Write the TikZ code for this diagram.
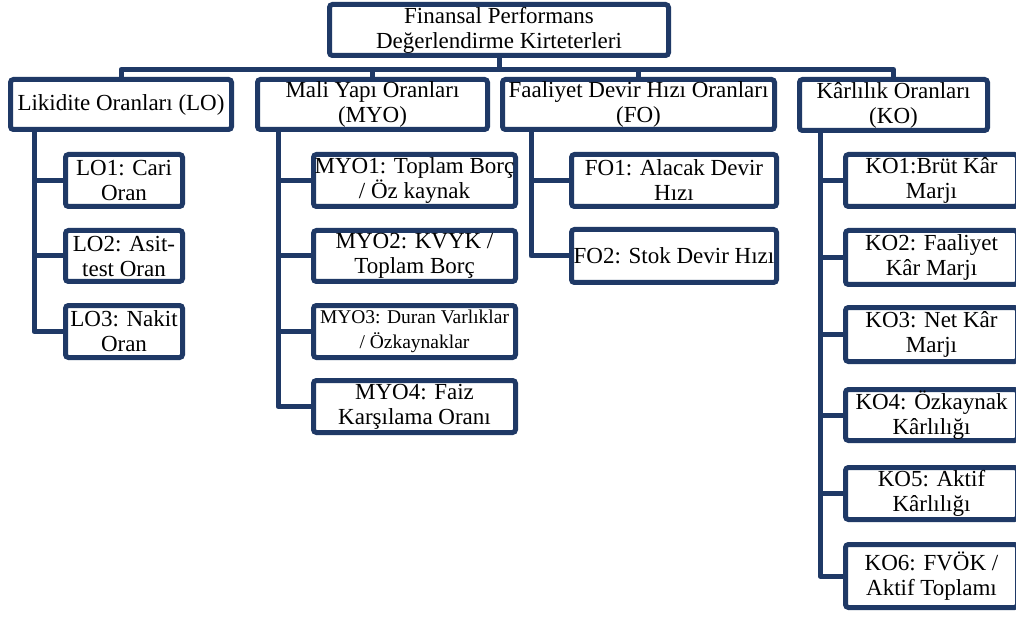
\documentclass[tikz,border=0pt]{standalone}
\usepackage{fontspec}
\setmainfont{Liberation Serif}
\definecolor{navy}{RGB}{31,57,102}
\tikzset{
  box/.style={draw=navy, line width=5pt, rounded corners=3pt, fill=white,
    inner sep=0pt, align=center, text=black, font=\fontsize{23}{25}\selectfont},
  conn/.style={draw=navy, line width=5pt, line join=round},
}
\begin{document}
\begin{tikzpicture}[x=1pt,y=-1pt]
\fill[white] (0,0) rectangle (1016,617);
\useasboundingbox (0,0) rectangle (1016,617);

% top
\node[box, minimum width=339pt, minimum height=51pt] (top) at (499,30) {Finansal Performans\\Değerlendirme Kirteterleri};

% level 1
\node[box, minimum width=221pt, minimum height=50pt] (LO) at (121,104.5) {Likidite Oranları (LO)};
\node[box, minimum width=230pt, minimum height=50pt] (MYO) at (372.5,104.5) {Mali Yapı Oranları\\(MYO)};
\node[box, minimum width=272pt, minimum height=50pt] (FO) at (638.5,104.5) {Faaliyet Devir Hızı Oranları\\(FO)};
\node[box, minimum width=188pt, minimum height=51pt] (KO) at (893.5,105) {Kârlılık Oranları\\(KO)};

% LO children
\node[box, minimum width=117pt, minimum height=52pt] (LO1) at (124,180.5) {LO1: Cari\\Oran};
\node[box, minimum width=117pt, minimum height=51pt] (LO2) at (124,256) {LO2: Asit-\\test Oran};
\node[box, minimum width=117pt, minimum height=52pt] (LO3) at (124,331.5) {LO3: Nakit\\Oran};

% MYO children
\node[box, minimum width=202pt, minimum height=52pt] (MYO1) at (414.5,180.5) {MYO1: Toplam Borç\\/ Öz kaynak};
\node[box, minimum width=202pt, minimum height=51pt] (MYO2) at (414.5,256) {MYO2: KVYK /\\Toplam Borç};
\node[box, minimum width=202pt, minimum height=52pt, font=\fontsize{19.5}{25}\selectfont] (MYO3) at (414.5,331.5) {MYO3: Duran Varlıklar\\/ Özkaynaklar};
\node[box, minimum width=202pt, minimum height=52pt] (MYO4) at (414.5,406.5) {MYO4: Faiz\\Karşılama Oranı};

% FO children
\node[box, minimum width=205pt, minimum height=52pt] (FO1) at (674,180.5) {FO1: Alacak Devir\\Hızı};
\node[box, minimum width=205pt, minimum height=53pt] (FO2) at (674,256) {FO2: Stok Devir Hızı};

% KO children
\node[box, minimum width=172pt, minimum height=52pt] (KO1) at (931.5,180.5) {KO1:Brüt Kâr\\Marjı};
\node[box, minimum width=172pt, minimum height=54pt] (KO2) at (931.5,257.5) {KO2: Faaliyet\\Kâr Marjı};
\node[box, minimum width=172pt, minimum height=54pt] (KO3) at (931.5,334.5) {KO3: Net Kâr\\Marjı};
\node[box, minimum width=172pt, minimum height=51pt] (KO4) at (931.5,415) {KO4: Özkaynak\\Kârlılığı};
\node[box, minimum width=172pt, minimum height=52pt] (KO5) at (931.5,493.5) {KO5: Aktif\\Kârlılığı};
\node[box, minimum width=172pt, minimum height=63pt] (KO6) at (931.5,576) {KO6: FVÖK /\\Aktif Toplamı};

% connectors level 0 -> 1
\coordinate (bar) at (499,69.5);
\draw[conn] (top.south) -- (bar);
\draw[conn] (LO.north) |- (bar) -| (KO.north);
\draw[conn] (MYO.north) -- (MYO.north |- bar);
\draw[conn] (FO.north) -- (FO.north |- bar);

% LO branch
\coordinate (LOv) at (34,0);
\draw[conn] (LO.south -| LOv) |- (LO3.west);
\draw[conn] (LOv |- LO1.west) -- (LO1.west);
\draw[conn] (LOv |- LO2.west) -- (LO2.west);

% MYO branch
\coordinate (MYOv) at (278,0);
\draw[conn] (MYO.south -| MYOv) |- (MYO4.west);
\draw[conn] (MYOv |- MYO1.west) -- (MYO1.west);
\draw[conn] (MYOv |- MYO2.west) -- (MYO2.west);
\draw[conn] (MYOv |- MYO3.west) -- (MYO3.west);

% FO branch
\coordinate (FOv) at (531,0);
\draw[conn] (FO.south -| FOv) |- (FO2.west);
\draw[conn] (FOv |- FO1.west) -- (FO1.west);

% KO branch
\coordinate (KOv) at (820,0);
\draw[conn] (KO.south -| KOv) |- (KO6.west);
\draw[conn] (KOv |- KO1.west) -- (KO1.west);
\draw[conn] (KOv |- KO2.west) -- (KO2.west);
\draw[conn] (KOv |- KO3.west) -- (KO3.west);
\draw[conn] (KOv |- KO4.west) -- (KO4.west);
\draw[conn] (KOv |- KO5.west) -- (KO5.west);
\end{tikzpicture}
\end{document}
